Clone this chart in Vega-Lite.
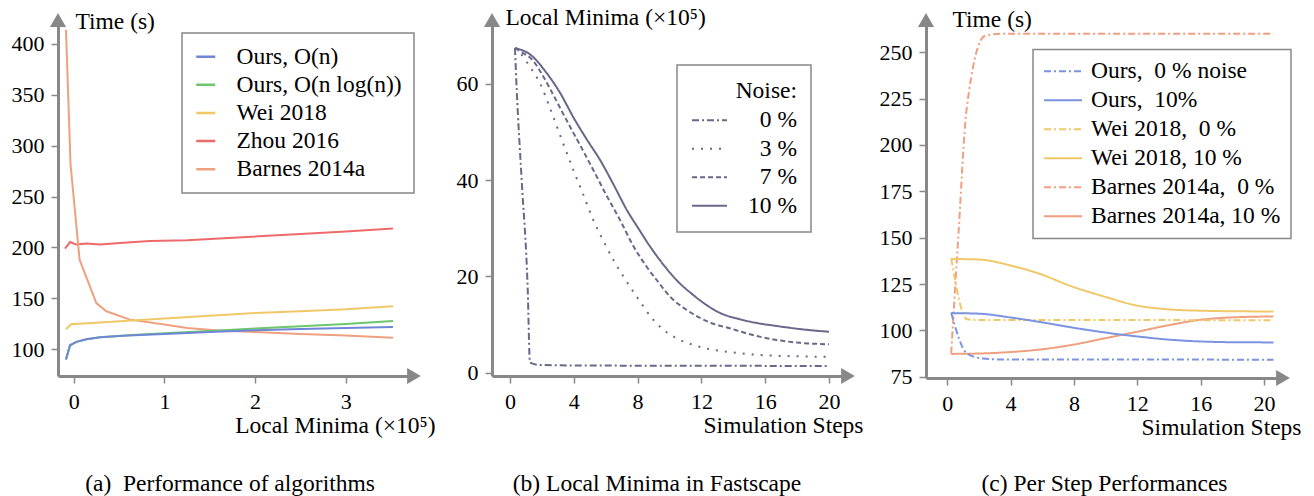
{
  "$schema": "https://vega.github.io/schema/vega-lite/v6.json",
  "autosize": {"type": "none"},
  "padding": {"left": 58, "top": 20, "right": 1256, "bottom": 476},
  "background": "white",
  "spacing": 78,
  "bounds": "flush",
  "datasets": {
    "a": [
      {"s": "Zhou 2016", "x": -0.096, "y": 198.8}, {"s": "Zhou 2016", "x": -0.04, "y": 205.3}, {"s": "Zhou 2016", "x": 0.025, "y": 203}, {"s": "Zhou 2016", "x": 0.14, "y": 204}, {"s": "Zhou 2016", "x": 0.29, "y": 203}, {"s": "Zhou 2016", "x": 0.55, "y": 204.7}, {"s": "Zhou 2016", "x": 0.84, "y": 206.3}, {"s": "Zhou 2016", "x": 1.25, "y": 207}, {"s": "Zhou 2016", "x": 1.76, "y": 209.6}, {"s": "Zhou 2016", "x": 2.5, "y": 213.2}, {"s": "Zhou 2016", "x": 3.0, "y": 215.8}, {"s": "Zhou 2016", "x": 3.52, "y": 218.6},
      {"s": "Barnes 2014a", "x": -0.085, "y": 414}, {"s": "Barnes 2014a", "x": -0.035, "y": 282}, {"s": "Barnes 2014a", "x": 0.065, "y": 188}, {"s": "Barnes 2014a", "x": 0.25, "y": 145.4}, {"s": "Barnes 2014a", "x": 0.36, "y": 137.3}, {"s": "Barnes 2014a", "x": 0.62, "y": 129.1}, {"s": "Barnes 2014a", "x": 1.0, "y": 124.2}, {"s": "Barnes 2014a", "x": 1.25, "y": 120.9}, {"s": "Barnes 2014a", "x": 1.6, "y": 118.5}, {"s": "Barnes 2014a", "x": 2.0, "y": 117}, {"s": "Barnes 2014a", "x": 2.5, "y": 115}, {"s": "Barnes 2014a", "x": 3.0, "y": 113.4}, {"s": "Barnes 2014a", "x": 3.52, "y": 111.4},
      {"s": "Wei 2018", "x": -0.085, "y": 119.6}, {"s": "Wei 2018", "x": -0.03, "y": 124.5}, {"s": "Wei 2018", "x": 0.29, "y": 126.2}, {"s": "Wei 2018", "x": 1.0, "y": 130.1}, {"s": "Wei 2018", "x": 1.5, "y": 132.8}, {"s": "Wei 2018", "x": 2.0, "y": 135.6}, {"s": "Wei 2018", "x": 2.5, "y": 137.4}, {"s": "Wei 2018", "x": 3.0, "y": 139.2}, {"s": "Wei 2018", "x": 3.52, "y": 142.2},
      {"s": "Ours, O(n log(n))", "x": -0.085, "y": 89.9}, {"s": "Ours, O(n log(n))", "x": -0.04, "y": 103.9}, {"s": "Ours, O(n log(n))", "x": 0.03, "y": 107.2}, {"s": "Ours, O(n log(n))", "x": 0.14, "y": 109.8}, {"s": "Ours, O(n log(n))", "x": 0.29, "y": 111.8}, {"s": "Ours, O(n log(n))", "x": 0.6, "y": 113.8}, {"s": "Ours, O(n log(n))", "x": 1.0, "y": 115.6}, {"s": "Ours, O(n log(n))", "x": 1.5, "y": 118}, {"s": "Ours, O(n log(n))", "x": 2.0, "y": 120.3}, {"s": "Ours, O(n log(n))", "x": 2.5, "y": 122.5}, {"s": "Ours, O(n log(n))", "x": 3.0, "y": 124.8}, {"s": "Ours, O(n log(n))", "x": 3.52, "y": 127.8},
      {"s": "Ours, O(n)", "x": -0.085, "y": 89.9}, {"s": "Ours, O(n)", "x": -0.04, "y": 103.9}, {"s": "Ours, O(n)", "x": 0.03, "y": 107.2}, {"s": "Ours, O(n)", "x": 0.14, "y": 109.8}, {"s": "Ours, O(n)", "x": 0.29, "y": 111.8}, {"s": "Ours, O(n)", "x": 0.6, "y": 113.5}, {"s": "Ours, O(n)", "x": 1.0, "y": 115}, {"s": "Ours, O(n)", "x": 1.5, "y": 117}, {"s": "Ours, O(n)", "x": 2.0, "y": 118.6}, {"s": "Ours, O(n)", "x": 2.5, "y": 119.8}, {"s": "Ours, O(n)", "x": 3.0, "y": 120.9}, {"s": "Ours, O(n)", "x": 3.52, "y": 121.9}
    ],
    "b": [
      {"n": "0 %", "x": 0.31, "y": 67.4}, {"n": "0 %", "x": 0.42, "y": 58.7}, {"n": "0 %", "x": 0.73, "y": 40}, {"n": "0 %", "x": 1.11, "y": 17.2}, {"n": "0 %", "x": 1.25, "y": 2.1}, {"n": "0 %", "x": 1.9, "y": 1.6}, {"n": "0 %", "x": 4, "y": 1.5}, {"n": "0 %", "x": 10, "y": 1.45}, {"n": "0 %", "x": 20, "y": 1.4},
      {"n": "3 %", "x": 0.31, "y": 67.4}, {"n": "3 %", "x": 0.73, "y": 66}, {"n": "3 %", "x": 1.25, "y": 63.5}, {"n": "3 %", "x": 1.88, "y": 60.1}, {"n": "3 %", "x": 2.5, "y": 55}, {"n": "3 %", "x": 3.13, "y": 49.4}, {"n": "3 %", "x": 3.97, "y": 42.1}, {"n": "3 %", "x": 4.6, "y": 36.9}, {"n": "3 %", "x": 5.22, "y": 31.7}, {"n": "3 %", "x": 5.85, "y": 27.4}, {"n": "3 %", "x": 6.48, "y": 23.4}, {"n": "3 %", "x": 7.2, "y": 19.5}, {"n": "3 %", "x": 7.94, "y": 15.8}, {"n": "3 %", "x": 8.98, "y": 11.0}, {"n": "3 %", "x": 9.82, "y": 8.4}, {"n": "3 %", "x": 10.6, "y": 6.9}, {"n": "3 %", "x": 11.5, "y": 5.75}, {"n": "3 %", "x": 12.5, "y": 4.9}, {"n": "3 %", "x": 13.6, "y": 4.36}, {"n": "3 %", "x": 14.8, "y": 3.9}, {"n": "3 %", "x": 16.1, "y": 3.6}, {"n": "3 %", "x": 18, "y": 3.4}, {"n": "3 %", "x": 20, "y": 3.3},
      {"n": "7 %", "x": 0.31, "y": 67.4}, {"n": "7 %", "x": 0.84, "y": 66.3}, {"n": "7 %", "x": 1.3, "y": 65.3}, {"n": "7 %", "x": 2.0, "y": 62}, {"n": "7 %", "x": 2.5, "y": 59}, {"n": "7 %", "x": 3.55, "y": 52.4}, {"n": "7 %", "x": 4.4, "y": 47.2}, {"n": "7 %", "x": 5.22, "y": 42.1}, {"n": "7 %", "x": 6.05, "y": 36.8}, {"n": "7 %", "x": 6.9, "y": 31.7}, {"n": "7 %", "x": 7.7, "y": 26.5}, {"n": "7 %", "x": 8.57, "y": 22.0}, {"n": "7 %", "x": 9.3, "y": 18.8}, {"n": "7 %", "x": 10.03, "y": 15.8}, {"n": "7 %", "x": 11.0, "y": 13.2}, {"n": "7 %", "x": 11.9, "y": 11.4}, {"n": "7 %", "x": 12.8, "y": 10.1}, {"n": "7 %", "x": 13.6, "y": 9.4}, {"n": "7 %", "x": 14.8, "y": 8.2}, {"n": "7 %", "x": 16.5, "y": 6.9}, {"n": "7 %", "x": 18.2, "y": 6.2}, {"n": "7 %", "x": 20, "y": 5.9},
      {"n": "10 %", "x": 0.31, "y": 67.4}, {"n": "10 %", "x": 1.25, "y": 66.1}, {"n": "10 %", "x": 2.3, "y": 62.2}, {"n": "10 %", "x": 3.03, "y": 58.7}, {"n": "10 %", "x": 4.08, "y": 52.4}, {"n": "10 %", "x": 4.8, "y": 48.5}, {"n": "10 %", "x": 5.64, "y": 44.2}, {"n": "10 %", "x": 6.5, "y": 39}, {"n": "10 %", "x": 7.32, "y": 33.8}, {"n": "10 %", "x": 8.04, "y": 30}, {"n": "10 %", "x": 8.78, "y": 26.2}, {"n": "10 %", "x": 9.6, "y": 22.5}, {"n": "10 %", "x": 10.45, "y": 19.2}, {"n": "10 %", "x": 11.5, "y": 16.1}, {"n": "10 %", "x": 12.3, "y": 14.1}, {"n": "10 %", "x": 13.17, "y": 12.4}, {"n": "10 %", "x": 14.4, "y": 11.1}, {"n": "10 %", "x": 15.5, "y": 10.3}, {"n": "10 %", "x": 16.5, "y": 9.8}, {"n": "10 %", "x": 18.6, "y": 8.9}, {"n": "10 %", "x": 20, "y": 8.5}
    ],
    "c": [
      {"s": "Barnes 2014a, 10 %", "x": 0.25, "y": 87.3}, {"s": "Barnes 2014a, 10 %", "x": 2, "y": 87.5}, {"s": "Barnes 2014a, 10 %", "x": 4, "y": 88.3}, {"s": "Barnes 2014a, 10 %", "x": 6, "y": 89.8}, {"s": "Barnes 2014a, 10 %", "x": 7.7, "y": 91.9}, {"s": "Barnes 2014a, 10 %", "x": 10, "y": 95.8}, {"s": "Barnes 2014a, 10 %", "x": 11.9, "y": 99.1}, {"s": "Barnes 2014a, 10 %", "x": 14, "y": 102.8}, {"s": "Barnes 2014a, 10 %", "x": 16, "y": 105.7}, {"s": "Barnes 2014a, 10 %", "x": 18, "y": 107}, {"s": "Barnes 2014a, 10 %", "x": 20.6, "y": 107.5},
      {"s": "Barnes 2014a,\u00a0 0 %", "x": 0.25, "y": 87.5}, {"s": "Barnes 2014a,\u00a0 0 %", "x": 0.71, "y": 152}, {"s": "Barnes 2014a,\u00a0 0 %", "x": 1.22, "y": 218.9}, {"s": "Barnes 2014a,\u00a0 0 %", "x": 2.37, "y": 258.8}, {"s": "Barnes 2014a,\u00a0 0 %", "x": 3.5, "y": 260}, {"s": "Barnes 2014a,\u00a0 0 %", "x": 20.6, "y": 260},
      {"s": "Wei 2018, 10 %", "x": 0.25, "y": 138.5}, {"s": "Wei 2018, 10 %", "x": 2, "y": 138.2}, {"s": "Wei 2018, 10 %", "x": 4, "y": 135}, {"s": "Wei 2018, 10 %", "x": 6, "y": 130}, {"s": "Wei 2018, 10 %", "x": 7.7, "y": 124.2}, {"s": "Wei 2018, 10 %", "x": 10, "y": 118}, {"s": "Wei 2018, 10 %", "x": 11.9, "y": 113.5}, {"s": "Wei 2018, 10 %", "x": 14, "y": 111.3}, {"s": "Wei 2018, 10 %", "x": 16, "y": 110.6}, {"s": "Wei 2018, 10 %", "x": 18, "y": 110.3}, {"s": "Wei 2018, 10 %", "x": 20.6, "y": 110.2},
      {"s": "Wei 2018,\u00a0 0 %", "x": 0.25, "y": 138.8}, {"s": "Wei 2018,\u00a0 0 %", "x": 1.25, "y": 106}, {"s": "Wei 2018,\u00a0 0 %", "x": 2, "y": 105.6}, {"s": "Wei 2018,\u00a0 0 %", "x": 20.6, "y": 105.5},
      {"s": "Ours,\u00a0 10%", "x": 0.25, "y": 109.3}, {"s": "Ours,\u00a0 10%", "x": 2, "y": 109}, {"s": "Ours,\u00a0 10%", "x": 3.95, "y": 107}, {"s": "Ours,\u00a0 10%", "x": 6, "y": 104.3}, {"s": "Ours,\u00a0 10%", "x": 7.7, "y": 101.8}, {"s": "Ours,\u00a0 10%", "x": 10, "y": 98.8}, {"s": "Ours,\u00a0 10%", "x": 11.9, "y": 96.8}, {"s": "Ours,\u00a0 10%", "x": 14, "y": 95}, {"s": "Ours,\u00a0 10%", "x": 16, "y": 94}, {"s": "Ours,\u00a0 10%", "x": 18, "y": 93.6}, {"s": "Ours,\u00a0 10%", "x": 20.6, "y": 93.5},
      {"s": "Ours,\u00a0 0 % noise", "x": 0.25, "y": 109.5}, {"s": "Ours,\u00a0 0 % noise", "x": 1.25, "y": 87.5}, {"s": "Ours,\u00a0 0 % noise", "x": 2.25, "y": 84.8}, {"s": "Ours,\u00a0 0 % noise", "x": 3.5, "y": 84.3}, {"s": "Ours,\u00a0 0 % noise", "x": 20.6, "y": 84.2}
    ]
  },
  "hconcat": [
    {
      "width": 356,
      "height": 356,
      "title": {"text": "(a)\u00a0 Performance of algorithms", "orient": "bottom", "frame": "group", "anchor": "middle", "offset": 35, "dx": -6, "font": "Liberation Serif"},
      "layer": [
        {
          "data": {"name": "a"},
          "mark": {"type": "line", "strokeWidth": 2},
          "encoding": {
            "x": {"field": "x", "type": "quantitative", "scale": {"domain": [-0.173, 3.752], "nice": false, "zero": false},
              "axis": {"values": [0, 1, 2, 3], "format": "d", "labelFont": "Liberation Serif", "titleFont": "Liberation Serif", "title": "Local Minima (×10⁵)", "titleX": 377, "titleY": 56, "titleAlign": "right", "titleBaseline": "alphabetic", "titleAngle": 0, "labelPadding": 8}},
            "y": {"field": "y", "type": "quantitative", "scale": {"domain": [73.7, 423.5], "nice": false, "zero": false},
              "axis": {"values": [100, 150, 200, 250, 300, 350, 400], "format": "d", "labelFont": "Liberation Serif", "titleFont": "Liberation Serif", "title": "Time (s)", "titleX": 17, "titleY": 8, "titleAlign": "left", "titleBaseline": "alphabetic", "titleAngle": 0, "labelPadding": 7}},
            "color": {"field": "s", "type": "nominal",
              "scale": {"domain": ["Ours, O(n)", "Ours, O(n log(n))", "Wei 2018", "Zhou 2016", "Barnes 2014a"], "range": ["#6f86d6", "#6cc76c", "#f0c868", "#ee6a6a", "#efa080"]},
              "legend": {"title": null, "orient": "none", "legendX": 124, "legendY": 13, "padding": 12, "rowPadding": 3.1, "symbolSize": 361, "labelOffset": 19, "symbolStrokeWidth": 2.5, "labelFont": "Liberation Serif", "labelFontSize": 23.5}}
          }
        },
        {
          "data": {"values": [{}]},
          "mark": {"type": "point", "shape": "triangle-right", "filled": true, "color": "#888", "size": 250, "opacity": 1, "strokeWidth": 0},
          "encoding": {"x": {"datum": 3.752}, "y": {"datum": 73.7}}
        },
        {
          "data": {"values": [{}]},
          "mark": {"type": "point", "shape": "triangle-up", "filled": true, "color": "#888", "size": 260, "opacity": 1, "strokeWidth": 0},
          "encoding": {"x": {"datum": -0.173}, "y": {"datum": 423.5}}
        }
      ]
    },
    {
      "width": 356,
      "height": 356,
      "title": {"text": "(b) Local Minima in Fastscape", "orient": "bottom", "frame": "group", "anchor": "middle", "offset": 35, "dx": -13, "font": "Liberation Serif"},
      "layer": [
        {
          "data": {"name": "b"},
          "mark": {"type": "line", "strokeWidth": 2, "color": "#68688a", "interpolate": "monotone"},
          "encoding": {
            "x": {"field": "x", "type": "quantitative", "scale": {"domain": [-1.13, 21.19], "nice": false, "zero": false},
              "axis": {"values": [0, 4, 8, 12, 16, 20], "format": "d", "labelFont": "Liberation Serif", "titleFont": "Liberation Serif", "title": "Simulation Steps", "titleX": 371, "titleY": 56, "titleAlign": "right", "titleBaseline": "alphabetic", "titleAngle": 0, "labelPadding": 8}},
            "y": {"field": "y", "type": "quantitative", "scale": {"domain": [-0.685, 73.23], "nice": false, "zero": false},
              "axis": {"values": [0, 20, 40, 60], "format": "d", "labelFont": "Liberation Serif", "titleFont": "Liberation Serif", "title": "Local Minima (×10⁵)", "titleX": 13, "titleY": 4, "titleAlign": "left", "titleBaseline": "alphabetic", "titleAngle": 0, "labelPadding": 7}},
            "strokeDash": {"field": "n", "type": "nominal",
              "scale": {"domain": ["0 %", "3 %", "7 %", "10 %"], "range": [[7, 3, 2, 3], [2, 7], [5, 3], [1, 0]]},
              "legend": {"title": "Noise:", "titleFont": "Liberation Serif", "titleAnchor": "end", "titleAlign": "right", "titlePadding": 6, "orient": "none", "legendX": 185, "legendY": 45, "padding": 14, "rowPadding": 3.5, "symbolSize": 1225, "labelOffset": 69, "labelAlign": "right", "symbolStrokeColor": "#68688a", "symbolStrokeWidth": 2, "labelFont": "Liberation Serif", "labelFontSize": 23.5}}
          }
        },
        {
          "data": {"values": [{}]},
          "mark": {"type": "point", "shape": "triangle-right", "filled": true, "color": "#888", "size": 250, "opacity": 1, "strokeWidth": 0},
          "encoding": {"x": {"datum": 21.19}, "y": {"datum": -0.685}}
        },
        {
          "data": {"values": [{}]},
          "mark": {"type": "point", "shape": "triangle-up", "filled": true, "color": "#888", "size": 260, "opacity": 1, "strokeWidth": 0},
          "encoding": {"x": {"datum": -1.13}, "y": {"datum": 73.23}}
        }
      ]
    },
    {
      "width": 357,
      "height": 358,
      "title": {"text": "(c) Per Step Performances", "orient": "bottom", "frame": "group", "anchor": "middle", "offset": 33, "dx": 0, "font": "Liberation Serif"},
      "layer": [
        {
          "data": {"name": "c"},
          "mark": {"type": "line", "strokeWidth": 2, "interpolate": "monotone"},
          "encoding": {
            "x": {"field": "x", "type": "quantitative", "scale": {"domain": [-1.34, 21.2], "nice": false, "zero": false},
              "axis": {"values": [0, 4, 8, 12, 16, 20], "format": "d", "labelFont": "Liberation Serif", "titleFont": "Liberation Serif", "title": "Simulation Steps", "titleX": 375, "titleY": 56, "titleAlign": "right", "titleBaseline": "alphabetic", "titleAngle": 0, "labelPadding": 8}},
            "y": {"field": "y", "type": "quantitative", "scale": {"domain": [74.3, 267.4], "nice": false, "zero": false},
              "axis": {"values": [75, 100, 125, 150, 175, 200, 225, 250], "format": "d", "labelFont": "Liberation Serif", "titleFont": "Liberation Serif", "title": "Time (s)", "titleX": 26, "titleY": 6, "titleAlign": "left", "titleBaseline": "alphabetic", "titleAngle": 0, "labelPadding": 7}},
            "color": {"field": "s", "type": "nominal",
              "scale": {"domain": ["Ours,\u00a0 0 % noise", "Ours,\u00a0 10%", "Wei 2018,\u00a0 0 %", "Wei 2018, 10 %", "Barnes 2014a,\u00a0 0 %", "Barnes 2014a, 10 %"], "range": ["#7b93e2", "#7b93e2", "#f0c868", "#f0c868", "#f0a080", "#f0a080"]},
              "legend": {"title": null, "orient": "none", "legendX": 107, "legendY": 29.5, "padding": 10, "rowPadding": 4.0, "symbolSize": 1444, "labelOffset": 8, "symbolStrokeWidth": 2, "labelFont": "Liberation Serif", "labelFontSize": 23.5}},
            "strokeDash": {"field": "s", "type": "nominal",
              "scale": {"domain": ["Ours,\u00a0 0 % noise", "Ours,\u00a0 10%", "Wei 2018,\u00a0 0 %", "Wei 2018, 10 %", "Barnes 2014a,\u00a0 0 %", "Barnes 2014a, 10 %"], "range": [[7, 3, 2, 3], [1, 0], [7, 3, 2, 3], [1, 0], [7, 3, 2, 3], [1, 0]]},
              "legend": {"title": null, "orient": "none", "legendX": 107, "legendY": 29.5, "padding": 10, "rowPadding": 4.0, "symbolSize": 1444, "labelOffset": 8, "symbolStrokeWidth": 2, "labelFont": "Liberation Serif", "labelFontSize": 23.5}}
          }
        },
        {
          "data": {"values": [{}]},
          "mark": {"type": "point", "shape": "triangle-right", "filled": true, "color": "#888", "size": 250, "opacity": 1, "strokeWidth": 0},
          "encoding": {"x": {"datum": 21.2}, "y": {"datum": 74.3}}
        },
        {
          "data": {"values": [{}]},
          "mark": {"type": "point", "shape": "triangle-up", "filled": true, "color": "#888", "size": 260, "opacity": 1, "strokeWidth": 0},
          "encoding": {"x": {"datum": -1.34}, "y": {"datum": 267.4}}
        }
      ]
    }
  ],
  "resolve": {"scale": {"color": "independent", "strokeDash": "independent"}, "legend": {"color": "independent", "strokeDash": "independent"}},
  "config": {
    "view": {"stroke": null},
    "font": "Liberation Serif",
    "style": {"guide-label": {"font": "Liberation Serif"}, "guide-title": {"font": "Liberation Serif"}, "group-title": {"font": "Liberation Serif"}},
    "axis": {"domainColor": "#888", "domainWidth": 3, "tickColor": "#888", "tickWidth": 1.5, "tickSize": 7, "labelFont": "Liberation Serif", "labelFontSize": 22, "labelColor": "#000", "titleFont": "Liberation Serif", "titleFontSize": 23.5, "titleFontWeight": "normal", "titleColor": "#000", "grid": false, "labelFlush": false, "labelOverlap": false},
    "legend": {"labelFont": "Liberation Serif", "labelFontSize": 23.5, "labelColor": "#000", "titleFont": "Liberation Serif", "titleFontSize": 23.5, "titleFontWeight": "normal", "titleColor": "#000", "strokeColor": "#888", "strokeWidth": 1.5, "fillColor": "#fff", "symbolType": "stroke", "clipHeight": 23.5, "labelLimit": 400},
    "title": {"font": "Liberation Serif", "fontSize": 23.5, "fontWeight": "normal", "color": "#000"}
  }
}
